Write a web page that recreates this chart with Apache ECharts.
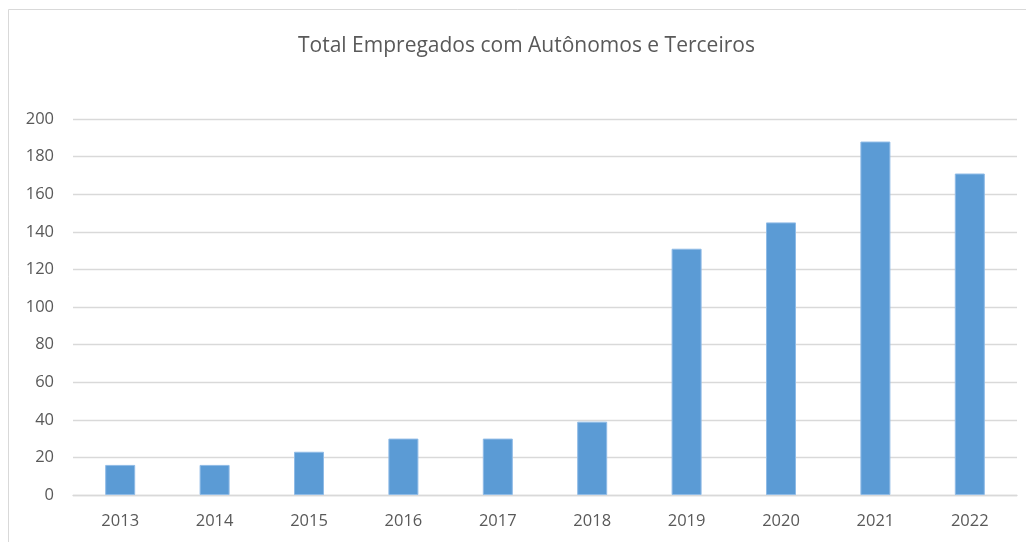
<!DOCTYPE html>
<html>
<head>
<meta charset="utf-8">
<script src="https://cdn.jsdelivr.net/npm/echarts@6/dist/echarts.min.js"></script>
<style>
  html, body { margin: 0; padding: 0; background: #fff; }
  #chart { width: 1026px; height: 542px; }
</style>
</head>
<body>
<div id="chart"></div>
<script>
var titleText = 'Total Empregados com Autônomos e Terceiros'
var years = ['2013', '2014', '2015', '2016', '2017', '2018', '2019', '2020', '2021', '2022']
var totals = [16, 16, 23, 30, 30, 39, 131, 145, 188, 171]
var yMin = 0, yMax = 200, yStep = 20

var echart = echarts.init(document.getElementById('chart'))
var fontFamily = '"Open Sans", "Noto Sans", sans-serif'
var option = {
    animation: false,
    backgroundColor: '#fff',
    graphic: [{
        type: 'rect',
        shape: { x: 8.5, y: 9.5, width: 1040, height: 560 },
        style: { fill: 'none', stroke: '#d9d9d9', lineWidth: 1 },
        silent: true
    }],
    title: {
        text: titleText,
        left: 293,
        top: 31,
        textStyle: {
            color: '#595959',
            fontSize: 21,
            fontWeight: 'normal',
            fontFamily: fontFamily
        }
    },
    grid: {
        left: 73,
        right: 9,
        top: 119,
        bottom: 47
    },
    xAxis: {
        type: 'category',
        data: years,
        axisLine: { show: true, lineStyle: { color: '#d9d9d9', width: 1.3 } },
        axisTick: { show: false },
        axisLabel: {
            color: '#595959',
            fontSize: 16.5,
            fontFamily: fontFamily,
            margin: 18
        }
    },
    yAxis: {
        type: 'value',
        min: yMin,
        max: yMax,
        interval: yStep,
        axisLine: { show: false },
        axisTick: { show: false },
        splitLine: { lineStyle: { color: '#d9d9d9', width: 1.3 } },
        axisLabel: {
            color: '#595959',
            fontSize: 16.5,
            fontFamily: fontFamily,
            margin: 19
        }
    },
    series: [{
        type: 'bar',
        data: totals,
        barWidth: 30,
        itemStyle: {
            color: '#5b9bd5',
            borderColor: '#8fbbe6',
            borderWidth: 1
        }
    }]
}
echart.setOption(option)
</script>
</body>
</html>
